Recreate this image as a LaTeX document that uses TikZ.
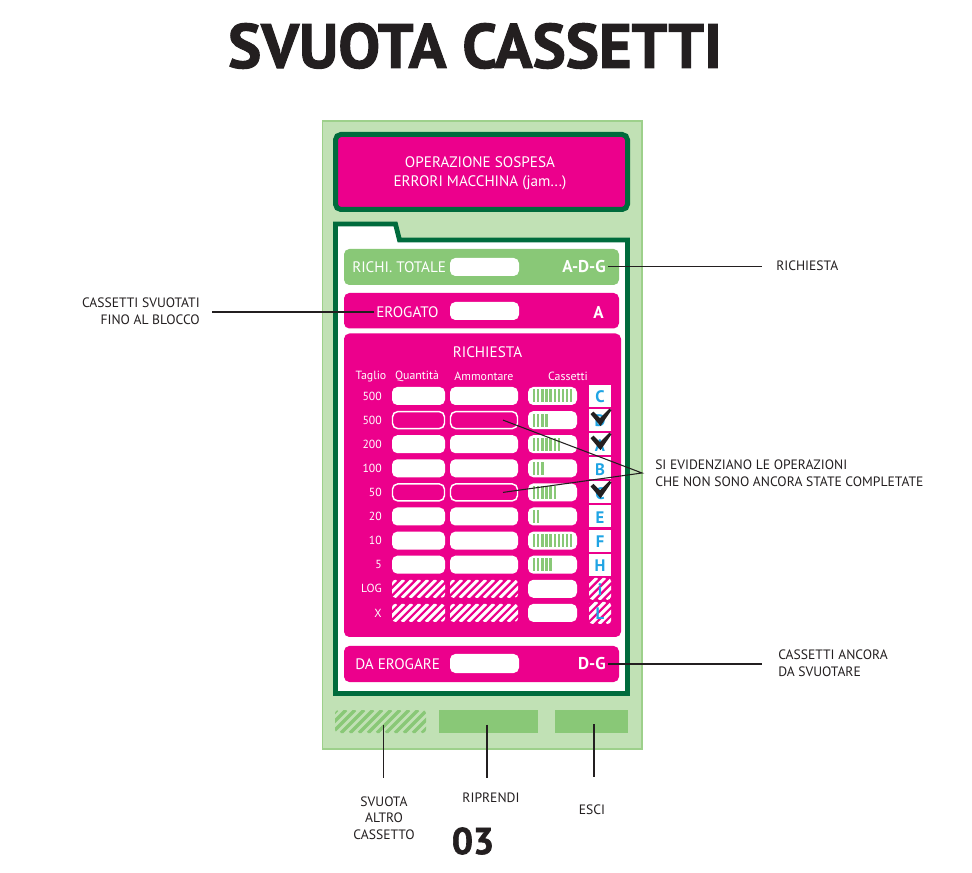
\documentclass[tikz,border=0pt]{standalone}
\usepackage{fontspec}
\setmainfont{PT Sans}
\newfontfamily\heavyfont{PT Sans Bold}[FakeBold=1.6]
\definecolor{mag}{HTML}{EC008C}
\definecolor{lgreen}{HTML}{C1E1B5}
\definecolor{pborder}{HTML}{9DD08B}
\definecolor{dgreen}{HTML}{006B3C}
\definecolor{mgreen}{HTML}{89C877}
\definecolor{cyanc}{HTML}{1FA4E4}
\definecolor{ink}{HTML}{231F20}
% x1 y1 x2 y2 bg stripe pitch
\newcommand\myhatch[7]{%
  \begin{scope}
    \clip[rounded corners=2.5pt] (#1,#2) rectangle (#3,#4);
    \fill[#5] (#1,#2) rectangle (#3,#4);
    \foreach \j in {0,...,22}{%
      \pgfmathsetmacro\tt{-30+#7*\j}%
      \draw[#6,line width={#7*0.29pt}] ({#1+\tt},{#4}) -- ({#1+\tt+((#4)-(#2))},{#2});
    }
  \end{scope}}
\begin{document}
\begin{tikzpicture}[x=0.75pt,y=-0.75pt,
  wt/.style={text=white,inner sep=0pt,font=\fontsize{11.4}{12}\selectfont},
  wtb/.style={text=white,inner sep=0pt,font=\bfseries\fontsize{12.8}{13}\selectfont},
  lbl/.style={text=ink,inner sep=0pt,font=\fontsize{10.2}{12.9}\selectfont},
  cline/.style={draw=ink,line width=0.8pt},
  tb/.style={text=white,inner sep=0pt,font=\fontsize{8.8}{9}\selectfont},
  hd/.style={text=white,inner sep=0pt,font=\fontsize{8.9}{9}\selectfont},
  lettr/.style={text=cyanc,inner sep=0pt,font=\bfseries\fontsize{12.5}{13}\selectfont},
  field/.style={fill=white,rounded corners=4pt},
  ofield/.style={draw=white,line width=1.1pt,fill=mag,rounded corners=4pt},
]
\useasboundingbox[fill=white] (0,0) rectangle (972,873);

% title
\node[text=ink,inner sep=0pt,font=\heavyfont\fontsize{47}{47}\selectfont] (title) at (475,46) {SVUOTA CASSETTI};

% outer panel
\path[fill=lgreen,draw=pborder,line width=0.8pt] (322.5,121) rectangle (642,749);

% top alarm box
\path[fill=mag,draw=dgreen,line width=3.75pt,rounded corners=4pt] (335.5,134.5) rectangle (627.5,209.5);
\node[wt,align=center,font=\fontsize{11.4}{14.6}\selectfont] (alarm) at (480,173.5) {OPERAZIONE SOSPESA\\ERRORI MACCHINA (jam...)};

% folder
\path[fill=white,draw=dgreen,line width=3.6pt] (335.5,224) -- (395.5,224) -- (399.5,240) -- (627.5,240) -- (627.5,693.5) -- (335.5,693.5) -- cycle;

% RICHI. TOTALE
\fill[mgreen,rounded corners=4pt] (344,249) rectangle (619,285);
\node[wt,anchor=west] (rt) at (352,267.5) {RICHI. TOTALE};
\fill[field] (450,258) rectangle (519,276);
\node[wtb,anchor=east] (adg) at (606,266.5) {A-D-G};

% EROGATO
\fill[mag,rounded corners=4pt] (344,293) rectangle (619,328.5);
\node[wt,anchor=west] (erog) at (376,312) {EROGATO};
\fill[field] (450,302) rectangle (519,320);
\node[wtb,anchor=east] (ea) at (604,312.5) {A};

% RICHIESTA panel
\fill[mag,rounded corners=4pt] (344,333.5) rectangle (621,637);
\node[wt] (rq) at (487.5,352) {RICHIESTA};
\node[hd] (h1) at (371,376.5) {Taglio};
\node[hd] (h2) at (417,376.5) {Quantità};
\node[hd] (h3) at (484,376.5) {Ammontare};
\node[hd] (h4) at (568,376.5) {Cassetti};

\foreach \i/\lab/\n/\letr/\k in {0/500/10/C/w,1/500/4/D/o,2/200/7/A/w,3/100/3/B/w,4/50/6/C/o,5/20/2/E/w,6/10/10/F/w,7/5/5/H/w,8/LOG/0/i/h,9/X/0/L/h}{
  \pgfmathsetmacro\y{396+24.1*\i}
  \node[tb,anchor=east] (t\i) at (382,\y) {\lab};
  \if w\k
    \fill[field] (392,\y-9) rectangle (445,\y+9);
    \fill[field] (450,\y-9) rectangle (518,\y+9);
  \fi
  \if o\k
    \path[ofield] (392.5,\y-8.5) rectangle (444.5,\y+8.5);
    \path[ofield] (450.5,\y-8.5) rectangle (517.5,\y+8.5);
  \fi
  \if h\k
    \myhatch{392}{\y-9}{445}{\y+9}{mag}{white}{8}
    \myhatch{450}{\y-9}{518}{\y+9}{mag}{white}{8}
    \myhatch{589}{\y-11}{611}{\y+11}{mag}{white}{8}
  \else
    \fill[white] (589,\y-11) rectangle (611,\y+11);
  \fi
  \fill[field] (528,\y-9) rectangle (577,\y+9);
  \ifnum\n>0
    \foreach \b in {1,...,\n}{\fill[mgreen] ({528.9+4.1*\b},\y-6.5) rectangle +(2.3,13);}
  \fi
  \node[lettr] (l\i) at (600,\y+1) {\letr};
  \coordinate (a\i) at (503,\y);
}
% check marks
\foreach \i in {1,2,4}{
  \pgfmathsetmacro\y{396+24.1*\i}
  \fill[ink,shift={(600,\y)}] (-9.5,-6) -- (-6.5,-8.5) -- (0,-2) -- (9.5,-11.5) -- (11.5,-10) -- (0.5,6) -- cycle;
}

% DA EROGARE
\fill[mag,rounded corners=4pt] (344,646) rectangle (619,682);
\node[wt,anchor=west] (dae) at (355,664) {DA EROGARE};
\fill[field] (450,654) rectangle (519,673);
\node[wtb,anchor=east] (dg) at (606,664) {D-G};

% bottom buttons
\myhatch{335}{710}{426}{733}{lgreen}{mgreen}{9}
\fill[mgreen] (439,710) rectangle (538,733);
\fill[mgreen] (555,710) rectangle (628,733);
\coordinate (b1) at (383.5,725);
\coordinate (b2) at (487,724.5);
\coordinate (b3) at (594,724);

% labels
\node[lbl,anchor=west] (lrich) at (776,266) {RICHIESTA};
\coordinate (erich) at (762,266.5);
\draw[cline] (adg.east) ++(2,0) -- (erich);

\node[lbl,anchor=east,align=right] (lsvu) at (200,311) {CASSETTI SVUOTATI\\FINO AL BLOCCO};
\coordinate (esvu) at (212,312);
\draw[cline] (esvu) -- ([xshift=-1.5pt]erog.west);

\node[lbl,anchor=west,align=left] (lev) at (655,473.5) {SI EVIDENZIANO LE OPERAZIONI\\CHE NON SONO ANCORA STATE COMPLETATE};
\coordinate (eev) at (642,473);
\draw[cline] (a1) -- (eev) -- (a4);

\node[lbl,anchor=west,align=left] (lanc) at (778,663.5) {CASSETTI ANCORA\\DA SVUOTARE};
\coordinate (eanc) at (762,664);
\draw[cline] (dg.east) ++(2,0) -- (eanc);

\node[lbl,align=center,font=\fontsize{10.2}{12.4}\selectfont] (lb1) at (384,818) {SVUOTA\\ALTRO\\CASSETTO};
\node[lbl] (lb2) at (491,798) {RIPRENDI};
\node[lbl] (lb3) at (592,810) {ESCI};
\coordinate (eb1) at (383.5,777.5);
\coordinate (eb2) at (487,778);
\coordinate (eb3) at (594,777);
\draw[cline] (b1) -- (eb1);
\draw[cline] (b2) -- (eb2);
\draw[cline] (b3) -- (eb3);

\node[text=ink,inner sep=0pt,font=\heavyfont\fontsize{28}{28}\selectfont] (num) at (473,841) {03};
\end{tikzpicture}
\end{document}
